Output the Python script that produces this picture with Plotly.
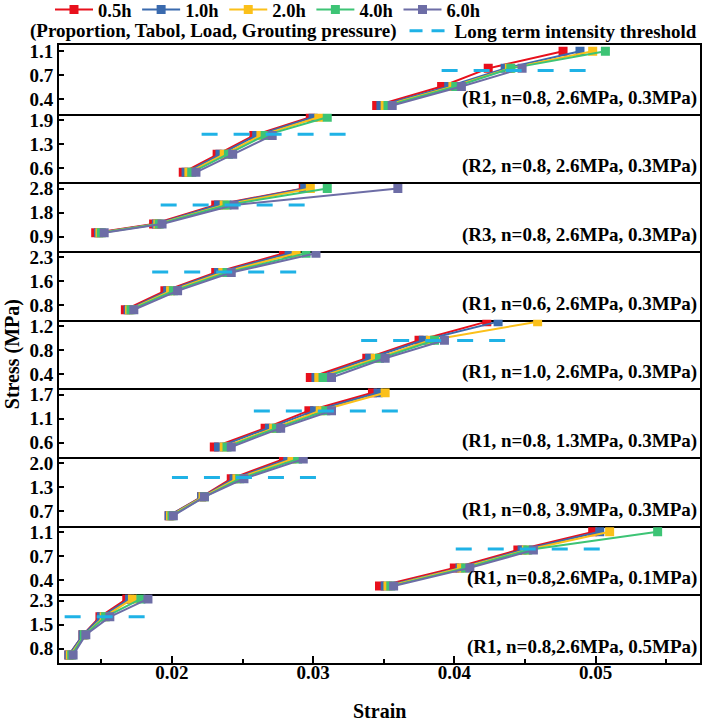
import plotly.graph_objects as go
from plotly.subplots import make_subplots

series_names = ["0.5h", "1.0h", "2.0h", "4.0h", "6.0h"]
series_colors = ["#E8101C", "#3A6AAE", "#FBC01A", "#3DC475", "#6D6DA6"]
threshold_color = "#1FB2E6"

panel_labels = [
    "(R1, n=0.8, 2.6MPa, 0.3MPa)",
    "(R2, n=0.8, 2.6MPa, 0.3MPa)",
    "(R3, n=0.8, 2.6MPa, 0.3MPa)",
    "(R1, n=0.6, 2.6MPa, 0.3MPa)",
    "(R1, n=1.0, 2.6MPa, 0.3MPa)",
    "(R1, n=0.8, 1.3MPa, 0.3MPa)",
    "(R1, n=0.8, 3.9MPa, 0.3MPa)",
    "(R1, n=0.8,2.6MPa, 0.1MPa)",
    "(R1, n=0.8,2.6MPa, 0.5MPa)",
]

# stress levels (MPa) of the four loading stages in each panel
stress_levels = [
    [0.31, 0.585, 0.85, 1.10],
    [0.48, 0.97, 1.48, 1.97],
    [1.05, 1.40, 2.15, 2.80],
    [0.66, 1.25, 1.82, 2.42],
    [0.34, 0.66, 0.96, 1.27],
    [0.50, 0.93, 1.33, 1.74],
    [0.58, 1.09, 1.58, 2.11],
    [0.31, 0.575, 0.835, 1.10],
    [0.60, 1.23, 1.79, 2.35],
]

# strain per panel for each time series
strain_05h = [
    [0.0345, 0.0391, 0.0424, 0.0477],
    [0.0208, 0.0232, 0.0258, 0.0298],
    [0.0146, 0.0187, 0.0231, 0.0293],
    [0.0167, 0.0195, 0.0231, 0.0279],
    [0.0298, 0.0338, 0.0375, 0.0423],
    [0.0230, 0.0266, 0.0297, 0.0342],
    [0.0198, 0.0221, 0.0242, 0.0279],
    [0.0347, 0.0400, 0.0445, 0.0498],
    [0.0127, 0.0137, 0.0149, 0.0168],
]
strain_10h = [
    [0.0348, 0.0396, 0.0436, 0.0489],
    [0.0210, 0.0234, 0.0260, 0.0300],
    [0.0148, 0.0189, 0.0233, 0.0294],
    [0.0169, 0.0197, 0.0233, 0.0283],
    [0.0302, 0.0340, 0.0378, 0.0431],
    [0.0233, 0.0269, 0.0301, 0.0346],
    [0.0198, 0.0221, 0.0244, 0.0282],
    [0.0351, 0.0404, 0.0448, 0.0503],
    [0.0127, 0.0137, 0.0150, 0.0170],
]
strain_20h = [
    [0.0351, 0.0399, 0.0439, 0.0498],
    [0.0212, 0.0237, 0.0263, 0.0304],
    [0.0149, 0.0190, 0.0237, 0.0298],
    [0.0170, 0.0199, 0.0236, 0.0288],
    [0.0304, 0.0344, 0.0383, 0.0459],
    [0.0237, 0.0272, 0.0305, 0.0351],
    [0.0199, 0.0222, 0.0246, 0.0285],
    [0.0353, 0.0405, 0.0451, 0.0510],
    [0.0128, 0.0138, 0.0152, 0.0172],
]
strain_40h = [
    [0.0353, 0.0401, 0.0440, 0.0507],
    [0.0214, 0.0240, 0.0266, 0.0310],
    [0.0150, 0.0191, 0.0239, 0.0310],
    [0.0171, 0.0201, 0.0239, 0.0295],
    [0.0307, 0.0347, 0.0386],
    [0.0239, 0.0274, 0.0309],
    [0.0200, 0.0223, 0.0248, 0.0289],
    [0.0355, 0.0408, 0.0452, 0.0544],
    [0.0129, 0.0138, 0.0153, 0.0178],
]
strain_60h = [
    [0.0356, 0.0405, 0.0448],
    [0.0217, 0.0243, 0.0271],
    [0.0152, 0.0193, 0.0244, 0.0360],
    [0.0173, 0.0204, 0.0242, 0.0302],
    [0.0313, 0.0351, 0.0393],
    [0.0242, 0.0277, 0.0313],
    [0.0201, 0.0223, 0.0251, 0.0293],
    [0.0357, 0.0411, 0.0456],
    [0.0130, 0.0139, 0.0156, 0.0183],
]
series_strains = [strain_05h, strain_10h, strain_20h, strain_40h, strain_60h]

# long term intensity threshold per panel: stress and strain extent
threshold_stress = [0.82, 1.51, 2.15, 1.84, 0.955, 1.32, 1.61, 0.85, 1.79]
threshold_strain = [
    [0.0391, 0.0494],
    [0.0221, 0.0324],
    [0.0192, 0.0297],
    [0.0186, 0.0290],
    [0.0334, 0.0437],
    [0.0258, 0.0363],
    [0.0200, 0.0304],
    [0.0401, 0.0504],
    [0.0124, 0.0183],
]

# y tick values and labels of each panel
ytick_values = [
    [0.4, 0.75, 1.1],
    [0.6, 1.25, 1.9],
    [0.9, 1.85, 2.8],
    [0.8, 1.55, 2.3],
    [0.4, 0.8, 1.2],
    [0.6, 1.15, 1.7],
    [0.7, 1.35, 2.0],
    [0.4, 0.75, 1.1],
    [0.8, 1.55, 2.3],
]
ytick_labels = [
    ["0.4", "0.7", "1.1"],
    ["0.6", "1.3", "1.9"],
    ["0.9", "1.8", "2.8"],
    ["0.8", "1.6", "2.3"],
    ["0.4", "0.8", "1.2"],
    ["0.6", "1.1", "1.7"],
    ["0.7", "1.3", "2.0"],
    ["0.4", "0.7", "1.1"],
    ["0.8", "1.5", "2.3"],
]

FONT = "Liberation Serif"
n_panels = len(panel_labels)

fig = make_subplots(rows=n_panels, cols=1, shared_xaxes=True, vertical_spacing=0)

for p in range(n_panels):
    for s, name in enumerate(series_names):
        xs = series_strains[s][p]
        ys = stress_levels[p][: len(xs)]
        fig.add_trace(
            go.Scatter(
                x=xs, y=ys, mode="lines+markers", name=name,
                line=dict(color=series_colors[s], width=2),
                marker=dict(symbol="square", size=9, color=series_colors[s]),
                legend="legend", showlegend=(p == 0),
            ),
            row=p + 1, col=1,
        )
    fig.add_trace(
        go.Scatter(
            x=threshold_strain[p], y=[threshold_stress[p]] * 2, mode="lines",
            line=dict(color=threshold_color, width=3, dash="16px,16px"),
            showlegend=False, hoverinfo="skip",
        ),
        row=p + 1, col=1,
    )

# legend entry for the threshold
fig.add_trace(
    go.Scatter(
        x=[None], y=[None], mode="lines", name="Long term intensity threshold",
        line=dict(color=threshold_color, width=3, dash="13px,9px"),
        legend="legend2", showlegend=True,
    ),
    row=1, col=1,
)

for p in range(n_panels):
    b, t = ytick_values[p][0], ytick_values[p][-1]
    span = t - b
    lo = b - 0.30 * span
    hi = t + 0.1286 * span
    fig.update_yaxes(
        range=[lo, hi], tickvals=ytick_values[p], ticktext=ytick_labels[p],
        ticks="inside", ticklen=5, tickwidth=1.6, tickcolor="black",
        tickfont=dict(family=FONT, size=19, color="black", weight="bold"),
        showline=True, mirror=True, linecolor="black", linewidth=1.8,
        showgrid=False, zeroline=False,
        row=p + 1, col=1,
    )
    last = p == n_panels - 1
    fig.update_xaxes(
        range=[0.012, 0.0574],
        ticks="inside" if last else "", ticklen=7, tickwidth=1.6, tickcolor="black",
        dtick=0.01, tick0=0, tickformat=".2f",
        minor=dict(ticks="inside" if last else "", ticklen=4, tickwidth=1.6,
                   tickcolor="black", dtick=0.005, tick0=0),
        tickfont=dict(family=FONT, size=19, color="black", weight="bold"),
        showticklabels=last, ticklabelstandoff=-9,
        showline=True, mirror=(p == 0), linecolor="black", linewidth=1.8,
        showgrid=False, zeroline=False,
        row=p + 1, col=1,
    )
    fig.add_annotation(
        text=panel_labels[p], xref=f"x{p + 1 if p else ''} domain",
        yref=f"y{p + 1 if p else ''} domain", x=1, y=0,
        xanchor="right", yanchor="bottom", xshift=-1, yshift=3, showarrow=False,
        font=dict(family=FONT, size=19, color="black", weight="bold"),
    )

fig.add_annotation(
    text="Stress (MPa)", xref="paper", yref="paper", x=-0.073, y=0.5,
    textangle=-90, showarrow=False, xanchor="center", yanchor="middle",
    font=dict(family=FONT, size=20, color="black", weight="bold"),
)
fig.add_annotation(
    text="Strain", xref="paper", yref="paper", x=0.5, y=-(711 - 663) / 618,
    showarrow=False, xanchor="center", yanchor="middle",
    font=dict(family=FONT, size=20, color="black", weight="bold"),
)

fig.update_layout(
    width=702, height=722,
    margin=dict(l=59, r=2, t=45, b=59, autoexpand=False),
    plot_bgcolor="rgba(0,0,0,0)", paper_bgcolor="white",
    font=dict(family=FONT, size=19, color="black", weight="bold"),
    legend=dict(
        orientation="h", xref="container", yref="container",
        x=50 / 702, y=1 - 10 / 722, xanchor="left", yanchor="middle",
        font=dict(family=FONT, size=18.5, color="black", weight="bold"),
        bgcolor="rgba(0,0,0,0)", itemwidth=38,
    ),
    legend2=dict(
        orientation="h", xref="container", yref="container",
        x=1.0, y=1 - 12 / 722, xanchor="right", yanchor="top",
        font=dict(family=FONT, size=19, color="black", weight="bold"),
        title=dict(text="(Proportion, Tabol, Load, Grouting pressure)", side="left",
                   font=dict(family=FONT, size=19, color="black", weight="bold")),
        bgcolor="rgba(0,0,0,0)", itemwidth=40,
    ),
    showlegend=True,
)

fig.write_html("out.html")
